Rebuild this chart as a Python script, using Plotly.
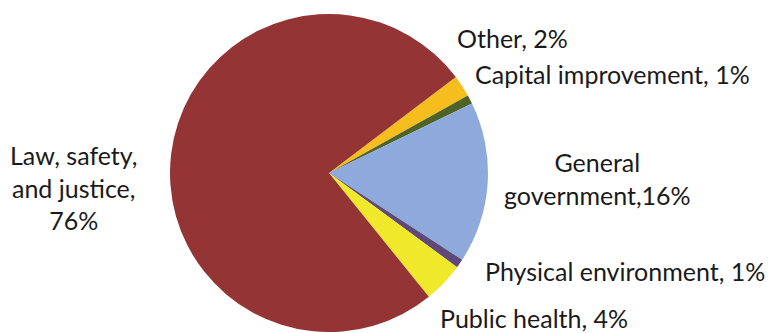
import plotly.graph_objects as go

W, H = 769, 333

# Data (clockwise from "Other")
categories = ["Other", "Capital improvement", "General government",
              "Physical environment", "Public health", "Law, safety, and justice"]
values = [2.2, 0.9, 16.4, 0.9, 4.1, 75.5]
label_texts = ["Other, 2%", "Capital improvement, 1%", "General<br>government,16%",
               "Physical environment, 1%", "Public health, 4%",
               "Law, safety,<br>and justice,<br>76%"]
colors = ["#F6BD1F", "#4F6228", "#8EAADC", "#5F497A", "#F0E82A", "#943434"]

# label placement in pixels (x, y from top, anchor)
label_pos = [(455, 38, "left"), (473, 74, "left"), (597, 178, "center"),
             (483, 271, "left"), (438, 318, "left"), (73, 187, "center")]

cx, cy, r = 329, 173, 159

fig = go.Figure(go.Pie(
    labels=categories, values=values, sort=False, direction="clockwise",
    rotation=52.9, marker=dict(colors=colors, line=dict(width=0)),
    textinfo="none", hoverinfo="label+percent", showlegend=False,
    domain=dict(x=[(cx - r) / W, (cx + r) / W],
                y=[(H - cy - r) / H, (H - cy + r) / H]),
))

font = dict(family="Lato, sans-serif", size=25, color="#1a1a1a")
for txt, (px, py, anc) in zip(label_texts, label_pos):
    fig.add_annotation(text=txt, x=px / W, y=1 - py / H, xref="paper", yref="paper",
                       xanchor=anc, yanchor="middle", showarrow=False, font=font,
                       align="center")

fig.update_layout(width=W, height=H, margin=dict(l=0, r=0, t=0, b=0),
                  paper_bgcolor="white", plot_bgcolor="white")
fig.write_html("out.html", config={"displayModeBar": False},
               post_script="document.body.style.margin='0';")
